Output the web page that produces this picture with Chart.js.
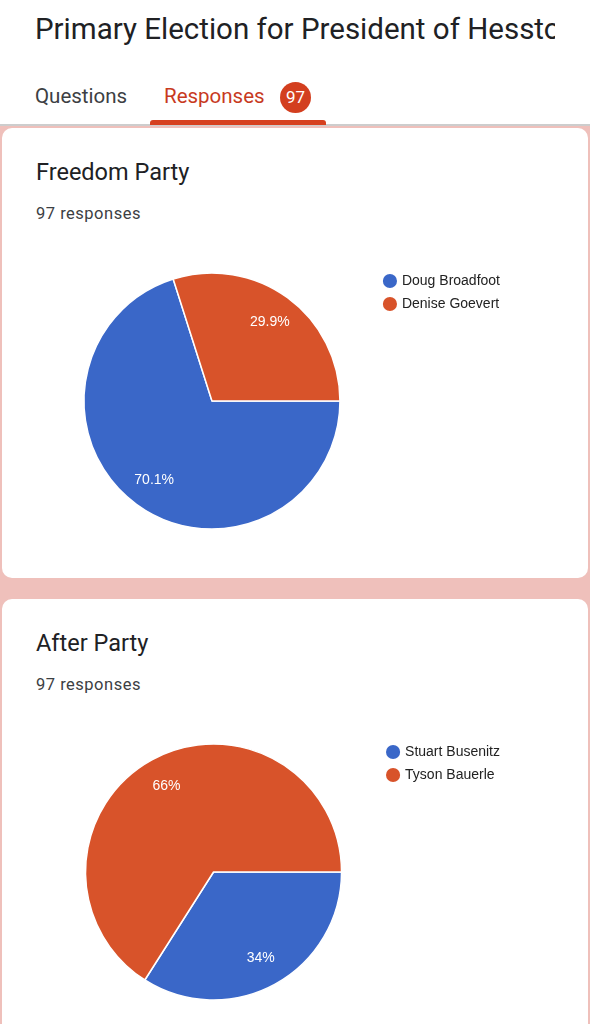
<!DOCTYPE html>
<html>
<head>
<meta charset="utf-8">
<script src="https://cdn.jsdelivr.net/npm/chart.js@4"></script>
<style>
  html, body { margin: 0; padding: 0; }
  body { width: 590px; height: 1024px; overflow: hidden; position: relative; background: #fff; font-family: Roboto, "Noto Sans", sans-serif; }
  .abs { position: absolute; }
  #title { left: 35px; top: 12px; width: 520px; overflow: hidden; white-space: nowrap; font-size: 29.5px; color: #202124; }
  .tab { top: 84px; font-size: 20.5px; }
  #tabQ { left: 35px; color: #3c4043; }
  #tabR { left: 164px; color: #c83a1e; }
  #badge { left: 280px; top: 82px; width: 31px; height: 31px; border-radius: 50%; background: #d33f1f; color: #fff; font-size: 17px; line-height: 31px; text-align: center; }
  #ink { left: 150px; top: 120px; width: 176px; height: 5px; border-radius: 3px 3px 0 0; background: #d6401f; }
  #rule { left: 0; top: 124px; width: 590px; height: 2px; background: #cdcdcd; }
  #pink { left: 0; top: 126px; width: 590px; height: 898px; background: #efc0bb; }
  .card { left: 2px; width: 586px; background: #fff; border-radius: 10px; }
  .qtitle { left: 36px; font-size: 23.5px; color: #202124; }
  .count { left: 36px; font-size: 16.5px; letter-spacing: 0.5px; color: #3c4043; }
  canvas { position: absolute; left: 0; }
</style>
</head>
<body>
<div class="abs" id="title">Primary Election for President of Hesstonia</div>
<div class="abs tab" id="tabQ">Questions</div>
<div class="abs tab" id="tabR">Responses</div>
<div class="abs" id="badge">97</div>
<div class="abs" id="rule"></div>
<div class="abs" id="ink"></div>
<div class="abs" id="pink"></div>

<div class="abs card" style="top:128px;height:450px"></div>
<div class="abs qtitle" style="top:158px">Freedom Party</div>
<div class="abs count" style="top:204px">97 responses</div>
<canvas id="chart-1" width="590" height="292" style="top:255px"></canvas>

<div class="abs card" style="top:599px;height:440px"></div>
<div class="abs qtitle" style="top:629px">After Party</div>
<div class="abs count" style="top:675px">97 responses</div>
<canvas id="chart-2" width="590" height="292" style="top:726px"></canvas>

<script>
// data (97 responses each)
const freedomLabels = ["Doug Broadfoot", "Denise Goevert"];
const freedomVotes = [68, 29];
const afterLabels = ["Stuart Busenitz", "Tyson Bauerle"];
const afterVotes = [33, 64];
const sliceColors = ["#3a67c8", "#d8532a"];

// white percentage text inside each slice
const pctLabels = {
  id: 'pctLabels',
  afterDatasetsDraw(chart) {
    const ctx = chart.ctx;
    const vals = chart.data.datasets[0].data;
    const total = vals.reduce((a, b) => a + b, 0);
    ctx.save();
    ctx.font = '14px "Liberation Sans", Arial, sans-serif';
    ctx.fillStyle = '#fff';
    ctx.textAlign = 'center';
    ctx.textBaseline = 'middle';
    chart.getDatasetMeta(0).data.forEach((arc, i) => {
      const p = arc.getProps(['x', 'y', 'startAngle', 'endAngle', 'outerRadius'], true);
      const mid = (p.startAngle + p.endAngle) / 2;
      const r = p.outerRadius * 0.765;
      const txt = (vals[i] / total * 100).toFixed(1).replace(/\.0$/, '') + '%';
      ctx.fillText(txt, p.x + Math.cos(mid) * r, p.y + Math.sin(mid) * r);
    });
    ctx.restore();
  }
};

function pie(id, labels, votes) {
  if (!document.getElementById(id)) return;
  new Chart(document.getElementById(id), {
    type: 'pie',
    data: {
      labels: labels,
      datasets: [{
        data: votes,
        backgroundColor: sliceColors,
        borderColor: '#fff',
        borderWidth: 1.5
      }]
    },
    options: {
      responsive: false,
      animation: false,
      rotation: 90,
      radius: 128,
      layout: { padding: { left: 48, right: 80, top: 10, bottom: 10 } },
      plugins: {
        tooltip: { enabled: false },
        legend: {
          position: 'right',
          align: 'start',
          labels: {
            usePointStyle: true,
            pointStyle: 'circle',
            boxWidth: 10,
            boxHeight: 10,
            padding: 9,
            color: '#222',
            font: { family: '"Liberation Sans", Arial, sans-serif', size: 14 },
            generateLabels(chart) {
              return Chart.overrides.pie.plugins.legend.labels.generateLabels(chart)
                .map(l => Object.assign(l, { lineWidth: 0 }));
            }
          }
        }
      }
    },
    plugins: [pctLabels]
  });
}

pie("chart-1", freedomLabels, freedomVotes);
pie("chart-2", afterLabels, afterVotes);
</script>
</body>
</html>
